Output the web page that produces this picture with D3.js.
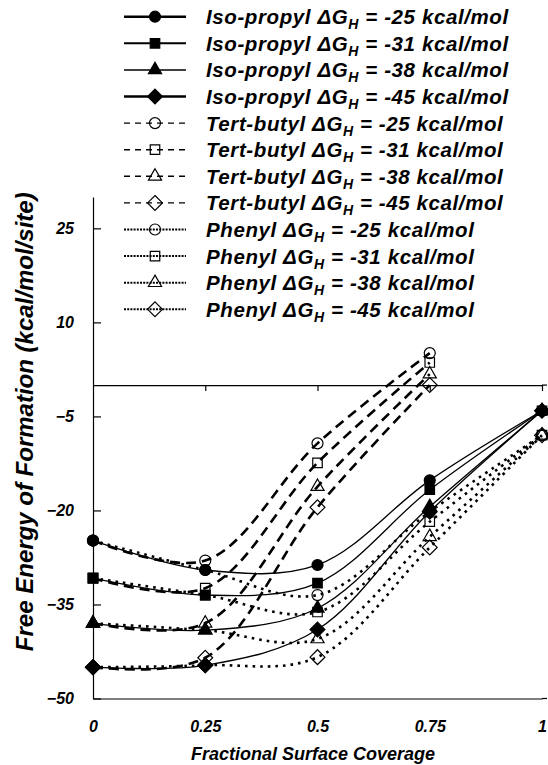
<!DOCTYPE html>
<html>
<head>
<meta charset="utf-8">
<script src="https://cdn.jsdelivr.net/npm/d3@7"></script>
<style>
    body { margin: 0; background: #fff; }
    text { font-family: "Liberation Sans", Arial, sans-serif; font-weight: bold; font-style: italic; fill: #000; }
</style>
</head>
<body>
<script>
// Data
const coverage = [0, 0.25, 0.5, 0.75, 1];
const deltaG = [-25, -31, -38, -45];

// Iso-propyl: values at coverage 0 .. 1
const isoPropyl = [
    [-24.8, -29.5, -28.7, -15.2, -4.1],
    [-30.8, -33.5, -31.6, -16.7, -4.1],
    [-38.0, -39.1, -35.6, -19.4, -4.1],
    [-45.0, -44.7, -39.0, -20.2, -4.1]
];
// Tert-butyl: values at coverage 0 .. 0.75
const tertButyl = [
    [-24.8, -28.0, -9.3, 5.1],
    [-30.8, -32.4, -12.4, 3.6],
    [-38.0, -38.0, -16.2, 1.75],
    [-45.0, -43.5, -19.5, 0.0]
];
// Phenyl: values at coverage 0 .. 1
const phenyl = [
    [-24.8, -29.5, -33.5, -20.2, -8.0],
    [-30.8, -33.5, -36.2, -21.8, -8.0],
    [-38.0, -39.1, -40.5, -24.2, -8.0],
    [-45.0, -44.7, -43.4, -25.9, -8.0]
];

const yTicks = [-50, -35, -20, -5, 10, 25];
const xTicks = [0, 0.25, 0.5, 0.75, 1];

// Configuration
const config = {
    width: 548,
    height: 765,
    left: 93,
    right: 542,
    top: 197,
    bottom: 698.5
};

const svg = d3.select('body')
    .append('svg')
    .attr('width', config.width)
    .attr('height', config.height);

const x = d3.scaleLinear().domain([0, 1]).range([config.left, config.right]);
const y = d3.scaleLinear().domain([-50, 30]).range([config.bottom, config.top]);

// Diamond rotated 45 degrees (square on its corner)
const diamond = {
    draw(ctx, size) {
        const r = Math.sqrt(size / 2);
        ctx.moveTo(0, -r);
        ctx.lineTo(r, 0);
        ctx.lineTo(0, r);
        ctx.lineTo(-r, 0);
        ctx.closePath();
    }
};
const shapes = [
    { type: d3.symbolCircle, size: 95 },
    { type: d3.symbolSquare, size: 90 },
    { type: d3.symbolTriangle, size: 75 },
    { type: diamond, size: 110 }
];

const groups = [
    { name: 'Iso-propyl', data: isoPropyl, width: 1.3, dash: null, fill: '#000',
      legendWidth: [2.6, 2, 1.5, 2.6], legendDash: null },
    { name: 'Tert-butyl', data: tertButyl, width: 2.6, dash: '10,6', fill: 'none',
      legendWidth: [1.4, 1.4, 1.4, 1.4], legendDash: '6,5' },
    { name: 'Phenyl', data: phenyl, width: 2.6, dash: '2.6,5', fill: 'none',
      legendWidth: [2, 2, 2, 2], legendDash: '2,1.2' }
];

// Axes
svg.append('g')
    .attr('transform', `translate(${config.left},0)`)
    .call(d3.axisLeft(y).tickValues(yTicks).tickSizeInner(-8).tickSizeOuter(0).tickPadding(19))
    .call(g => g.selectAll('text').style('font-size', '16px').attr('font-family', null))
    .call(g => g.selectAll('line, path').attr('stroke', '#000').attr('stroke-width', 1.2));

// Horizontal axis crossing at zero (ticks only)
svg.append('g')
    .attr('transform', `translate(0,${y(0)})`)
    .call(d3.axisBottom(x).tickValues(xTicks.slice(1)).tickSize(6).tickSizeOuter(0).tickFormat(''))
    .call(g => g.selectAll('line, path').attr('stroke', '#000').attr('stroke-width', 1.2));

// Bottom line with the coverage labels
svg.append('g')
    .attr('transform', `translate(0,${y(-50)})`)
    .call(d3.axisBottom(x).tickValues(xTicks).tickSize(0).tickPadding(22).tickFormat(d => String(d)))
    .call(g => g.selectAll('text').style('font-size', '16px').attr('font-family', null))
    .call(g => g.selectAll('path').attr('stroke', '#000').attr('stroke-width', 1.2));

// Both horizontal lines run a little past the last tick
[0, -50].forEach(v => {
    svg.append('line')
        .attr('x1', x(1)).attr('x2', x(1) + 5)
        .attr('y1', y(v)).attr('y2', y(v))
        .attr('stroke', '#000').attr('stroke-width', 1.2);
});

// Axis titles
svg.append('text')
    .attr('transform', `translate(33,${(config.top + config.bottom) / 2 - 26}) rotate(-90)`)
    .attr('text-anchor', 'middle')
    .style('font-size', '24px')
    .text('Free Energy of Formation (kcal/mol/site)');

svg.append('text')
    .attr('x', 313)
    .attr('y', 760)
    .attr('text-anchor', 'middle')
    .style('font-size', '18px')
    .text('Fractional Surface Coverage');

// Series
const line = d3.line()
    .x(d => x(d.c))
    .y(d => y(d.v))
    .curve(d3.curveCatmullRom);

const plot = svg.append('g');
groups.forEach(grp => {
    grp.data.forEach((vals, i) => {
        const pts = vals.map((v, k) => ({ c: coverage[k], v: v }));
        plot.append('path')
            .datum(pts)
            .attr('d', line)
            .attr('fill', 'none')
            .attr('stroke', '#000')
            .attr('stroke-width', grp.width)
            .attr('stroke-dasharray', grp.dash);
        plot.selectAll(null)
            .data(pts)
            .join('path')
            .attr('transform', d => `translate(${x(d.c)},${y(d.v)})`)
            .attr('d', d3.symbol().type(shapes[i].type).size(shapes[i].size))
            .attr('fill', grp.fill)
            .attr('stroke', '#000')
            .attr('stroke-width', 1.2);
    });
});

// Legend
const legend = svg.append('g');
let row = 0;
groups.forEach(grp => {
    deltaG.forEach((dg, i) => {
        const cy = 16.7 + row * 26.6;
        const item = legend.append('g').attr('transform', `translate(0,${cy})`);
        item.append('line')
            .attr('x1', 124).attr('x2', 186)
            .attr('stroke', '#000')
            .attr('stroke-width', grp.legendWidth[i])
            .attr('stroke-dasharray', grp.legendDash);
        item.append('path')
            .attr('transform', 'translate(155,0)')
            .attr('d', d3.symbol().type(shapes[i].type).size(shapes[i].size))
            .attr('fill', grp.fill)
            .attr('stroke', '#000')
            .attr('stroke-width', 1.2);
        const t = item.append('text')
            .attr('x', 206)
            .attr('y', 7.5)
            .style('font-size', '20.5px')
            .style('letter-spacing', '0.6px');
        t.append('tspan').text(`${grp.name} \u0394G`);
        t.append('tspan').attr('dy', 5).style('font-size', '14px').text('H');
        t.append('tspan').attr('dy', -5).text(` = ${dg} kcal/mol`);
        row++;
    });
});
</script>
</body>
</html>
